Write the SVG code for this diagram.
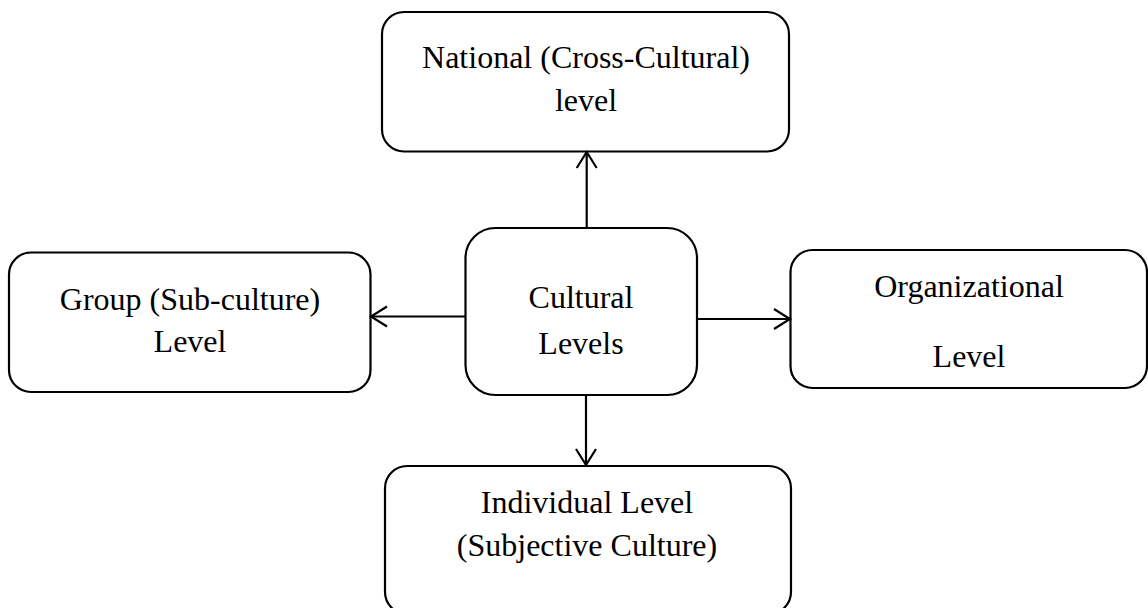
<svg xmlns="http://www.w3.org/2000/svg" width="1148" height="608" viewBox="0 0 1148 608">
<style>
.box{fill:#fff;stroke:#000;stroke-width:2.2}
.t{font-family:"Liberation Serif","Times New Roman",serif;font-size:32px;fill:#000;text-anchor:middle}
.c{fill:none;stroke:#000;stroke-width:2.2}
.h{fill:none;stroke:#000;stroke-width:2.2;stroke-linejoin:miter}
</style>
<rect width="1148" height="608" fill="#fff"/>
<g id="national">
<rect class="box" x="382" y="12" width="407" height="139.5" rx="22"/>
<text class="t" x="586" y="68">National (Cross-Cultural)</text>
<text class="t" x="586" y="111">level</text>
</g>
<g id="group">
<rect class="box" x="9" y="252.5" width="361.5" height="139.5" rx="22"/>
<text class="t" x="190" y="310">Group (Sub-culture)</text>
<text class="t" x="190" y="352">Level</text>
</g>
<g id="cultural">
<rect class="box" x="465.5" y="228" width="231.5" height="167" rx="30"/>
<text class="t" x="581" y="308">Cultural</text>
<text class="t" x="581" y="354">Levels</text>
</g>
<g id="organizational">
<rect class="box" x="790.5" y="250" width="356.5" height="138" rx="22"/>
<text class="t" x="969" y="297">Organizational</text>
<text class="t" x="969" y="367">Level</text>
</g>
<g id="individual">
<rect class="box" x="385" y="466" width="406" height="148" rx="22"/>
<text class="t" x="587" y="513">Individual Level</text>
<text class="t" x="587" y="556">(Subjective Culture)</text>
</g>
<g id="connectors">
<line class="c" x1="586.7" y1="228" x2="586.7" y2="152"/>
<polyline class="h" points="576.7,168 586.7,152 596.7,168"/>
<line class="c" x1="465.5" y1="316.5" x2="371" y2="316.5"/>
<polyline class="h" points="387,306.5 371,316.5 387,326.5"/>
<line class="c" x1="697" y1="319" x2="790" y2="319"/>
<polyline class="h" points="774,309 790,319 774,329"/>
<line class="c" x1="586" y1="395" x2="586" y2="465"/>
<polyline class="h" points="576,449 586,465 596,449"/>
</g>
</svg>
